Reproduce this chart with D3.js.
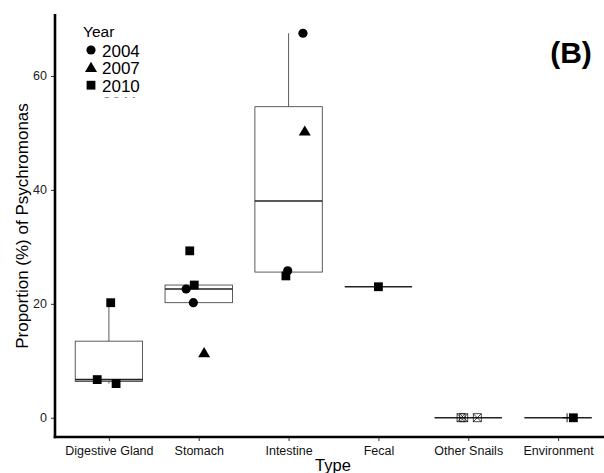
<!DOCTYPE html>
<html>
<head>
<meta charset="utf-8">
<script src="https://cdn.jsdelivr.net/npm/d3@7"></script>
<style>
  html, body { margin: 0; padding: 0; background: #fff; }
  svg { display: block; font-family: "Liberation Sans", Arial, Helvetica, sans-serif; }
</style>
</head>
<body>
<svg id="chart" width="604" height="473"></svg>
<script>
// ---- data ----
const categories = ["Digestive Gland", "Stomach", "Intestine", "Fecal", "Other Snails", "Environment"];
const years = ["2004", "2007", "2010", "2011", "2013"];
const yTicks = [0, 20, 40, 60];
// observations: category, year, proportion, jitter (fraction of band step)
const obsCategory = ["Digestive Gland", "Digestive Gland", "Digestive Gland",
  "Stomach", "Stomach", "Stomach", "Stomach", "Stomach",
  "Intestine", "Intestine", "Intestine", "Intestine",
  "Fecal",
  "Other Snails", "Other Snails", "Other Snails",
  "Environment", "Environment"];
const obsYear = ["2010", "2010", "2010",
  "2010", "2010", "2004", "2004", "2007",
  "2004", "2007", "2004", "2010",
  "2010",
  "2013", "2013", "2013",
  "2011", "2010"];
const obsValue = [20.2, 6.7, 6.0,
  29.3, 23.3, 22.6, 20.2, 11.4,
  67.5, 50.3, 25.8, 24.9,
  23.0,
  0, 0, 0,
  0, 0];
const obsJitter = [0.02, -0.13, 0.08,
  -0.10, -0.05, -0.14, -0.06, 0.06,
  0.16, 0.18, -0.01, -0.03,
  0,
  -0.08, -0.05, 0.10,
  0.10, 0.17];

(function () {
// ---- layout ----
const svg = d3.select("#chart");
const mLeft = 55, mRight = 612, mTop = 14, mBottom = 437;
const step = (mRight - mLeft) / (categories.length + 0.2);

const x = d3.scalePoint().domain(categories)
  .range([mLeft + 0.6 * step, mRight - 0.6 * step]);
const y = d3.scaleLinear().domain([-3.375, 70.875]).range([mBottom, mTop]);

const obs = obsValue.map((v, i) => ({cat: obsCategory[i], year: obsYear[i], value: v, jit: obsJitter[i]}));

// ---- boxplots ----
const boxW = 0.75 * step;
const gBox = svg.append("g");
categories.forEach(c => {
  const vals = obs.filter(d => d.cat === c).map(d => d.value).sort(d3.ascending);
  const q1 = d3.quantile(vals, 0.25), med = d3.quantile(vals, 0.5), q3 = d3.quantile(vals, 0.75);
  const iqr = q3 - q1;
  const lo = d3.min(vals.filter(v => v >= q1 - 1.5 * iqr));
  const hi = d3.max(vals.filter(v => v <= q3 + 1.5 * iqr));
  const cx = x(c);
  gBox.append("line").attr("x1", cx).attr("x2", cx).attr("y1", y(q3)).attr("y2", y(hi))
    .attr("stroke", "#333").attr("stroke-width", 0.8);
  gBox.append("line").attr("x1", cx).attr("x2", cx).attr("y1", y(q1)).attr("y2", y(lo))
    .attr("stroke", "#333").attr("stroke-width", 0.8);
  gBox.append("rect").attr("x", cx - boxW / 2).attr("width", boxW)
    .attr("y", y(q3)).attr("height", Math.max(0, y(q1) - y(q3)))
    .attr("fill", "#fff").attr("stroke", "#333").attr("stroke-width", 0.8);
  gBox.append("line").attr("x1", cx - boxW / 2).attr("x2", cx + boxW / 2)
    .attr("y1", y(med)).attr("y2", y(med)).attr("stroke", "#222").attr("stroke-width", 1.6);
});

// ---- point shapes ----
function drawShape(g, year, px, py) {
  if (year === "2004") {
    g.append("circle").attr("cx", px).attr("cy", py).attr("r", 4.6).attr("fill", "#000");
  } else if (year === "2007") {
    g.append("path").attr("d", `M${px},${py - 5.8}L${px + 6},${py + 4.4}L${px - 6},${py + 4.4}Z`).attr("fill", "#000");
  } else if (year === "2010") {
    g.append("rect").attr("x", px - 4.4).attr("y", py - 4.4).attr("width", 8.8).attr("height", 8.8).attr("fill", "#000");
  } else if (year === "2011") {
    g.append("path").attr("d", `M${px - 4.5},${py}H${px + 4.5}M${px},${py - 4.5}V${py + 4.5}`)
      .attr("stroke", "#000").attr("stroke-width", 0.9).attr("fill", "none");
  } else {
    g.append("rect").attr("x", px - 4).attr("y", py - 4).attr("width", 8).attr("height", 8)
      .attr("fill", "none").attr("stroke", "#000").attr("stroke-width", 0.7);
    g.append("path").attr("d", `M${px - 4},${py - 4}L${px + 4},${py + 4}M${px + 4},${py - 4}L${px - 4},${py + 4}`)
      .attr("stroke", "#000").attr("stroke-width", 0.7);
  }
}
const gPts = svg.append("g");
obs.forEach(d => drawShape(gPts, d.year, x(d.cat) + d.jit * step, y(d.value)));

// ---- axes ----
const yAxis = d3.axisLeft(y).tickValues(yTicks).tickSize(4).tickPadding(4);
const gy = svg.append("g").attr("transform", `translate(${mLeft},0)`).call(yAxis);
gy.select(".domain").remove();
gy.selectAll(".tick line").attr("stroke", "#333");
gy.selectAll(".tick text").attr("font-size", 12.5).attr("fill", "#222")
  .attr("font-family", "Liberation Sans, Arial, sans-serif");

const xAxis = d3.axisBottom(x).tickSize(4).tickPadding(5);
const gx = svg.append("g").attr("transform", `translate(0,${mBottom})`).call(xAxis);
gx.select(".domain").remove();
gx.selectAll(".tick line").attr("stroke", "#333");
gx.selectAll(".tick text").attr("font-size", 12.5).attr("fill", "#111")
  .attr("font-family", "Liberation Sans, Arial, sans-serif");

svg.append("line").attr("x1", mLeft).attr("x2", mLeft).attr("y1", mTop).attr("y2", mBottom + 1.2)
  .attr("stroke", "#000").attr("stroke-width", 2.6);
svg.append("line").attr("x1", mLeft - 1.3).attr("x2", 604).attr("y1", mBottom).attr("y2", mBottom)
  .attr("stroke", "#000").attr("stroke-width", 2.6);

// titles
svg.append("text").attr("x", 333).attr("y", 471).attr("text-anchor", "middle")
  .attr("font-size", 16.5).attr("fill", "#000").text("Type");
svg.append("text").attr("transform", "translate(28,226) rotate(-90)").attr("text-anchor", "middle")
  .attr("font-size", 17).attr("fill", "#000").text("Proportion (%) of Psychromonas");
svg.append("text").attr("x", 571).attr("y", 63).attr("text-anchor", "middle")
  .attr("font-size", 30).attr("font-weight", "bold").attr("fill", "#000").text("(B)");

// ---- legend (clipped as in the reference) ----
svg.append("clipPath").attr("id", "legclip").append("rect")
  .attr("x", 60).attr("y", 15).attr("width", 120).attr("height", 82.5);
const gLeg = svg.append("g").attr("clip-path", "url(#legclip)");
gLeg.append("rect").attr("x", 62).attr("y", 16).attr("width", 100).attr("height", 82).attr("fill", "#fff");
gLeg.append("text").attr("x", 83).attr("y", 37).attr("font-size", 15.5).attr("fill", "#000").text("Year");
years.slice(0, 4).forEach((yr, i) => {
  const cy = 50 + i * 17.6;
  drawShape(gLeg, yr, 91, cy);
  gLeg.append("text").attr("x", 102).attr("y", cy + 6.5).attr("font-size", 17).attr("fill", "#000").text(yr);
});
})();
</script>
</body>
</html>
